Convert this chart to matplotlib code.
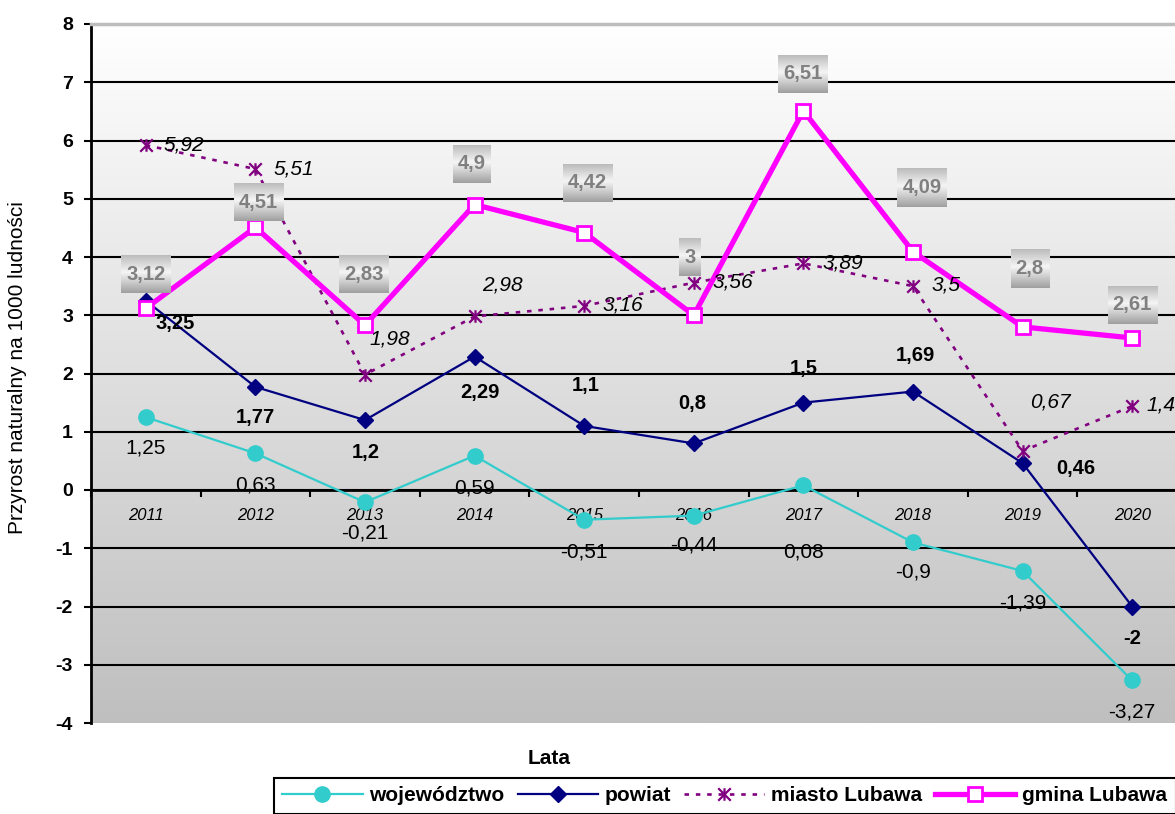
import numpy as np
import matplotlib
matplotlib.use('Agg')
import matplotlib.pyplot as plt
from matplotlib.colors import LinearSegmentedColormap
from matplotlib.path import Path

plt.rcParams['font.family'] = ['Liberation Sans', 'DejaVu Sans']
plt.rcParams['axes.unicode_minus'] = False

years = ['2011', '2012', '2013', '2014', '2015', '2016', '2017', '2018', '2019', '2020']
wojewodztwo = [1.25, 0.63, -0.21, 0.59, -0.51, -0.44, 0.08, -0.9, -1.39, -3.27]
powiat = [3.25, 1.77, 1.2, 2.29, 1.1, 0.8, 1.5, 1.69, 0.46, -2]
miasto = [5.92, 5.51, 1.98, 2.98, 3.16, 3.56, 3.89, 3.5, 0.67, 1.44]
gmina = [3.12, 4.51, 2.83, 4.9, 4.42, 3, 6.51, 4.09, 2.8, 2.61]

# where each data label sits, in pixels from its point (y up)
woj_off = [(0, -31), (0, -32), (0, -31), (0, -32), (0, -32), (0, -29), (0, -67), (0, -30), (0, -32), (0, -32)]
pow_off = [(29, -23), (0, -31), (1, -32), (5, -36), (1, 40), (-2, 40), (0, 34), (2, 36), (53, -5), (0, -32)]
mia_off = [(38, 0), (38, 0), (25, 36), (28, 31), (39, 1), (39, 1), (39, 0), (33, 1), (28, 49), (35, 1)]
gm_off = [(0, 34), (3, 25), (-1, 51), (-3, 41), (3, 50), (-4, 58), (-1, 37), (9, 64), (7, 58), (0, 33)]


def fmt(v):
    return f'{v:g}'.replace('.', ',')


# excel-like star: X plus vertical bar
star = Path([(0, -1), (0, 1), (-1, -1), (1, 1), (-1, 1), (1, -1)],
            [Path.MOVETO, Path.LINETO, Path.MOVETO, Path.LINETO, Path.MOVETO, Path.LINETO])

fig = plt.figure(figsize=(11.75, 8.14), dpi=100)
ax = fig.add_axes([91 / 1175, 91 / 814, 1096 / 1175, 699 / 814])

# background gradient
bg = LinearSegmentedColormap.from_list('bg', ['#ffffff', '#bfbfbf'])
ax.imshow(np.linspace(0, 1, 256).reshape(-1, 1), cmap=bg, aspect='auto',
          extent=[0, 1, 0, 1], transform=ax.transAxes, origin='upper', zorder=0)

x = np.arange(len(years))
l1, = ax.plot(x, wojewodztwo, color='#33CCCC', lw=1.6, marker='o', ms=11, zorder=3,
              label='województwo')
l2, = ax.plot(x, powiat, color='#000080', lw=1.6, marker='D', ms=8, zorder=4, label='powiat')
l3, = ax.plot(x, miasto, color='#800080', lw=1.9, dashes=(1.7, 2.6), marker=star, ms=9,
              mew=1.6, zorder=5, label='miasto Lubawa')
l4, = ax.plot(x, gmina, color='#FF00FF', lw=3.8, marker='s', ms=10.5, mfc='white',
              mec='#FF00FF', mew=2, zorder=6, label='gmina Lubawa')

for i in range(len(years)):
    ax.annotate(fmt(wojewodztwo[i]), (x[i], wojewodztwo[i]), xytext=woj_off[i],
                textcoords='offset pixels', ha='center', va='center', fontsize=15, zorder=10)
    ax.annotate(fmt(powiat[i]), (x[i], powiat[i]), xytext=pow_off[i],
                textcoords='offset pixels', ha='center', va='center', fontsize=14.5,
                fontweight='bold', zorder=10)
    ax.annotate(fmt(miasto[i]), (x[i], miasto[i]), xytext=mia_off[i],
                textcoords='offset pixels', ha='center', va='center', fontsize=15,
                fontstyle='italic', zorder=10)

gm_texts = []
for i in range(len(years)):
    t = ax.annotate(fmt(gmina[i]), (x[i], gmina[i]), xytext=gm_off[i],
                    textcoords='offset pixels', ha='center', va='center', fontsize=14.5,
                    fontweight='bold', color='#808080', zorder=12)
    gm_texts.append(t)

# axes styling
ax.set_xlim(-0.5, 9.5)
ax.set_ylim(-4, 8)
ax.set_yticks(range(-4, 9))
ax.tick_params(axis='y', labelsize=14, width=1.5, length=5, pad=8)
for lab in ax.get_yticklabels():
    lab.set_fontweight('bold')
ax.yaxis.grid(True, color='black', lw=1.5, zorder=1)
ax.set_axisbelow(True)
grid = ax.yaxis.get_gridlines()
grid[0].set_color('#b5b5b5')
grid[0].set_linewidth(1)
grid[-1].set_visible(False)

ax.spines['bottom'].set_position(('data', 0))
ax.spines['bottom'].set_linewidth(2)
ax.spines['left'].set_linewidth(2)
ax.spines['top'].set_color('#bdbdbd')
ax.spines['top'].set_linewidth(2.5)
ax.spines['right'].set_visible(False)
ax.set_xticks(np.arange(-0.5, 10, 1))
ax.set_xticklabels([])
ax.set_xticks(x, minor=True)
ax.set_xticklabels(years, minor=True, fontstyle='italic', fontsize=12)
ax.tick_params(axis='x', which='major', length=5, width=1.5)
ax.tick_params(axis='x', which='minor', length=0, pad=13)

fig.text(18 / 1175, 1 - 368 / 814, 'Przyrost naturalny na 1000 ludności', rotation=90,
         ha='center', va='center', fontsize=15)
fig.text(549 / 1175, 1 - 759 / 814, 'Lata', ha='center', va='center', fontsize=15,
         fontweight='bold')

leg = fig.legend(handles=[l1, l2, l3, l4], loc='upper left', ncol=4,
                 bbox_to_anchor=(274 / 1175, 1 - 778 / 814), bbox_transform=fig.transFigure,
                 borderaxespad=0, frameon=True, fancybox=False, edgecolor='black',
                 framealpha=1, prop={'weight': 'bold', 'size': 15}, handlelength=3.85,
                 handletextpad=0.33, columnspacing=0.62, borderpad=0.4)
leg.get_frame().set_linewidth(1.5)

# gradient boxes behind gmina labels
fig.canvas.draw()
renderer = fig.canvas.get_renderer()
inv = ax.transData.inverted()
box_cmap = LinearSegmentedColormap.from_list('box', [(0, '#bcbcbc'), (0.45, '#f5f5f5'),
                                                     (1, '#a0a0a0')])
for t in gm_texts:
    bb = t.get_window_extent(renderer)
    cy = (bb.y0 + bb.y1) / 2
    x0, y0 = inv.transform((bb.x0 - 5, cy - 19))
    x1, y1 = inv.transform((bb.x1 + 5, cy + 19))
    ax.imshow(np.linspace(0, 1, 64).reshape(-1, 1), cmap=box_cmap, aspect='auto',
              extent=[x0, x1, y0, y1], origin='upper', zorder=11)

ax.set_xlim(-0.5, 9.5)
ax.set_ylim(-4, 8)

fig.savefig('out.png', dpi=100)
